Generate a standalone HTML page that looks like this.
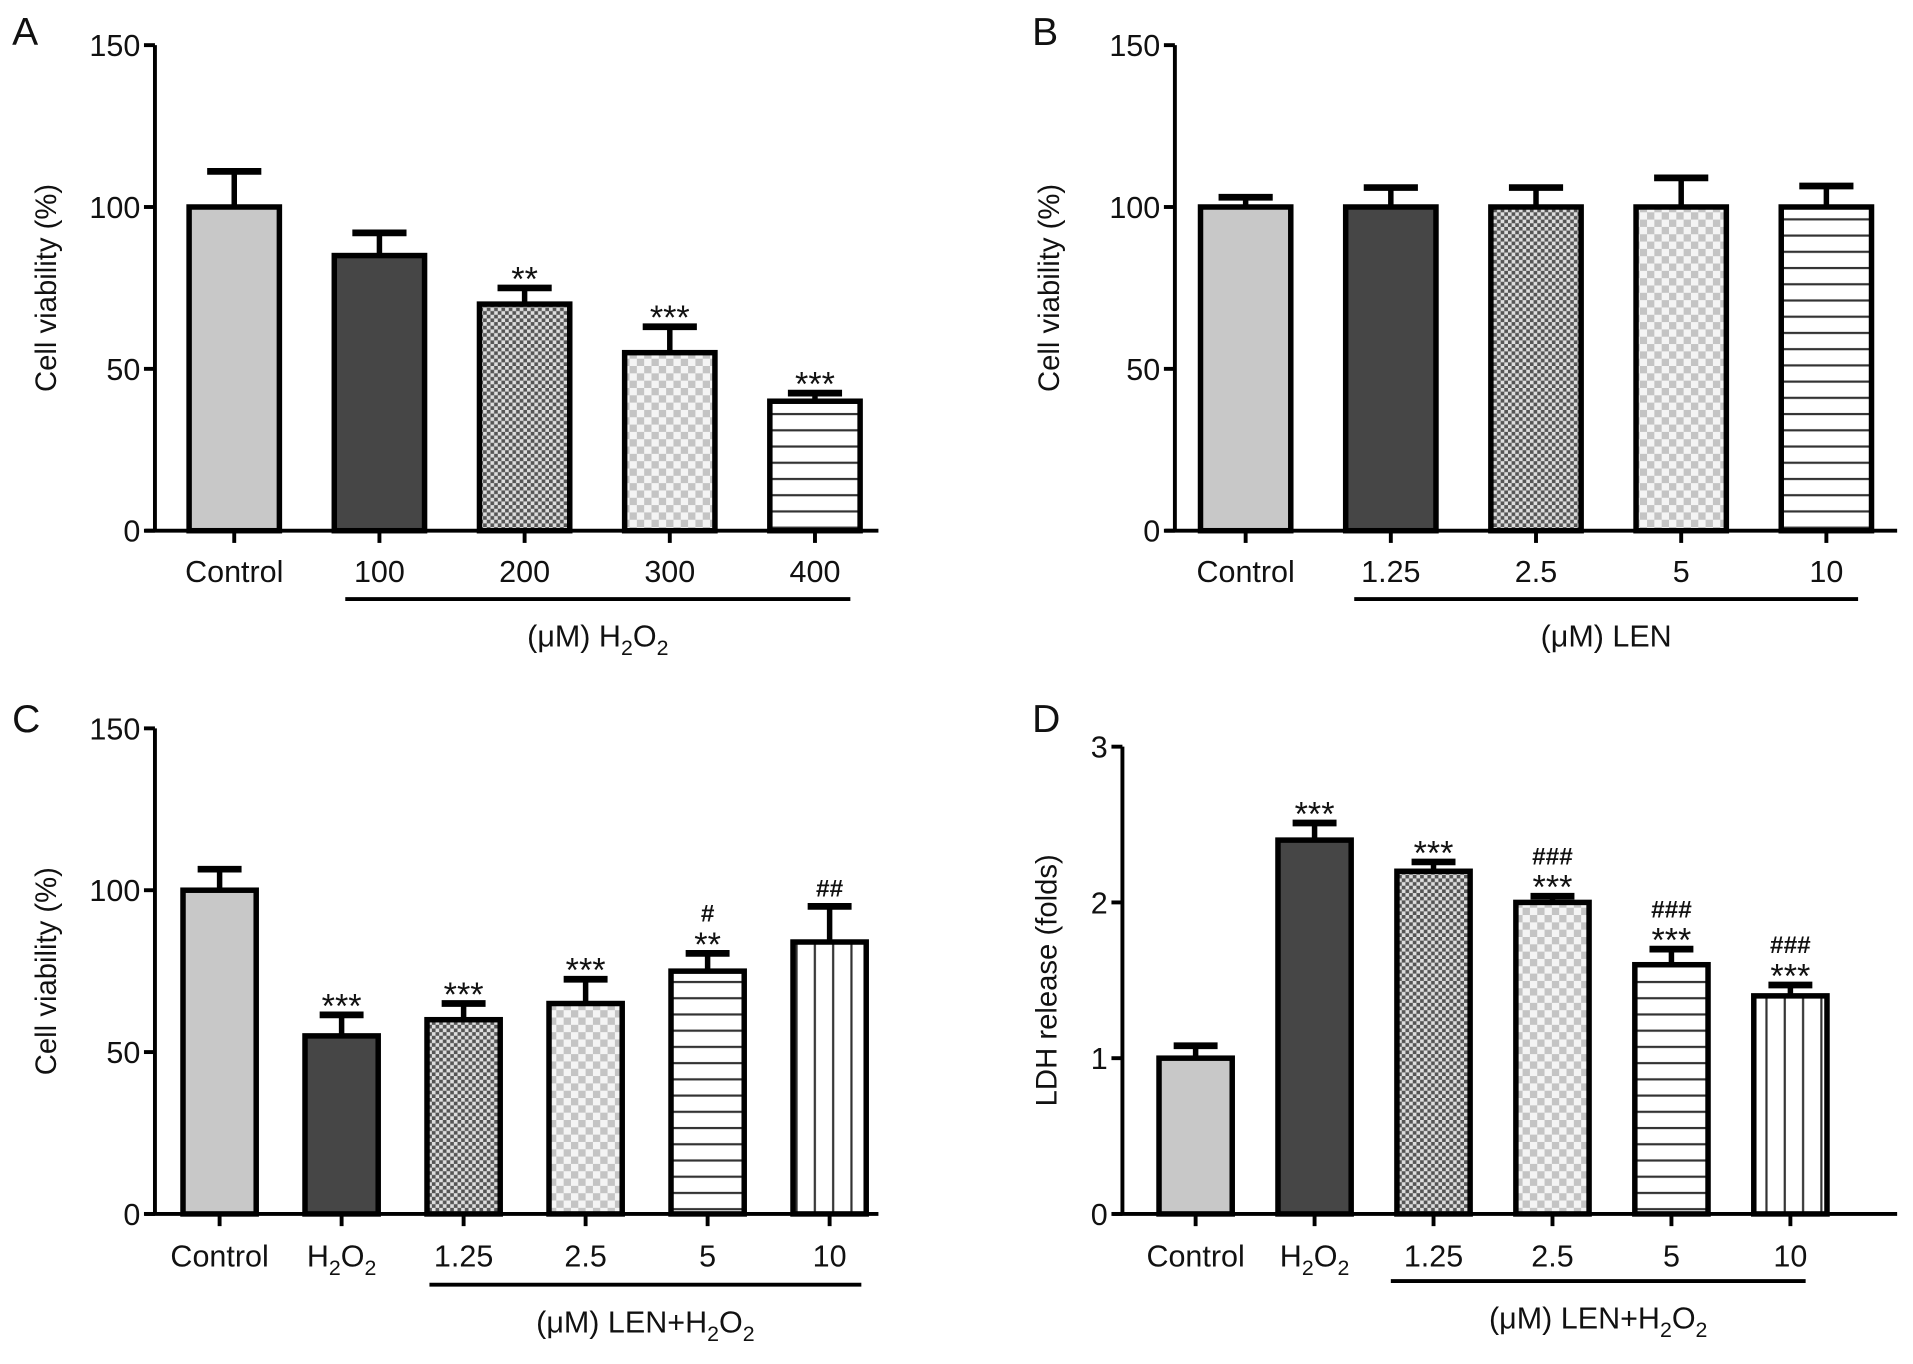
<!DOCTYPE html>
<html><head><meta charset="utf-8"><style>
html,body{margin:0;padding:0;background:#fff}
svg{display:block}
text{font-family:"Liberation Sans",Arial,sans-serif;fill:#111}
</style></head><body>
<svg id="fig" width="1913" height="1364" viewBox="0 0 1568 1118" preserveAspectRatio="none" xmlns="http://www.w3.org/2000/svg">
<defs>
<pattern id="p-fine" width="6" height="6" patternUnits="userSpaceOnUse"><rect width="6" height="6" fill="#555"/><rect width="3" height="3" fill="#ddd"/><rect x="3" y="3" width="3" height="3" fill="#ddd"/></pattern>
<pattern id="p-coarse" width="12" height="12" patternUnits="userSpaceOnUse"><rect width="12" height="12" fill="#f4f4f4"/><rect width="6" height="6" fill="#c4c4c4"/><rect x="6" y="6" width="6" height="6" fill="#c4c4c4"/></pattern>
<pattern id="p-hlines" width="10" height="13.3" patternUnits="userSpaceOnUse"><rect width="10" height="13.3" fill="#fff"/><rect y="6" width="10" height="1.8" fill="#333"/></pattern>
<pattern id="p-vlines" width="15" height="10" patternUnits="userSpaceOnUse"><rect width="15" height="10" fill="#fff"/><rect x="7" width="1.8" height="10" fill="#333"/></pattern>
</defs>
</svg>
<script>
// Panel A
const catsA = ["Control","100","200","300","400"];
const valsA = [100,85,70,55,40];
const errsA = [11,7,5,8,2.5];
const annA = [[],[],["**"],["***"],["***"]];
// Panel B
const catsB = ["Control","1.25","2.5","5","10"];
const valsB = [100,100,100,100,100];
const errsB = [3,6,6,9,6.5];
const annB = [[],[],[],[],[]];
// Panel C
const catsC = ["Control","H2O2","1.25","2.5","5","10"];
const valsC = [100,55,60,65,75,84];
const errsC = [6.5,6.5,5,7.5,5.5,11];
const annC = [[],["***"],["***"],["***"],["**","#"],["##"]];
// Panel D
const catsD = ["Control","H2O2","1.25","2.5","5","10"];
const valsD = [1.0,2.4,2.2,2.0,1.6,1.4];
const errsD = [0.08,0.11,0.06,0.04,0.1,0.07];
const annD = [[],["***"],["***"],["***","###"],["***","###"],["***","###"]];
const ticksCV = [0,50,100,150];
const ticksLDH = [0,1,2,3];

const fillsA = ["#c8c8c8","#464646","url(#p-fine)","url(#p-coarse)","url(#p-hlines)"];
const fillsC = ["#c8c8c8","#464646","url(#p-fine)","url(#p-coarse)","url(#p-hlines)","url(#p-vlines)"];

const svg = document.getElementById('fig');
const NS = "http://www.w3.org/2000/svg";
function mk(tag, attrs, parent){const e=document.createElementNS(NS,tag);for(const k in attrs)e.setAttribute(k,attrs[k]);(parent||svg).appendChild(e);return e;}
function label(g,x,y,txt,size,anchor){
  const t=mk('text',{x:x,y:y,'font-size':size,'text-anchor':anchor||'middle'},g);
  const m=txt.match(/^(.*?)H2O2(.*)$/);
  if(m){
    t.appendChild(document.createTextNode(m[1]+"H"));
    const s1=mk('tspan',{dy:7,'font-size':size*0.7},t);s1.textContent="2";
    const s2=mk('tspan',{dy:-7},t);s2.textContent="O";
    const s3=mk('tspan',{dy:7,'font-size':size*0.7},t);s3.textContent="2";
    if(m[2]){const s4=mk('tspan',{dy:-7},t);s4.textContent=m[2];}
  } else t.textContent=txt;
  return t;
}
function panel(o){
  const g=mk('g',{});
  
  
  const ymax=o.ticks[o.ticks.length-1];
  const Y=v=>o.y0-(v/ymax)*(o.y0-o.yTop);
  const X=i=>o.x0+i*o.step;
  const lt=mk('text',{x:o.lx,y:o.ly,'font-size':32},g);lt.textContent=o.letter;
  
  const ya=mk('line',{x1:o.ax,y1:o.yTop,x2:o.ax,y2:o.y0,stroke:'#000','stroke-width':3.2},g);
  
  o.ticks.forEach(t=>{
    mk('line',{x1:o.ax-9,y1:Y(t),x2:o.ax,y2:Y(t),stroke:'#000','stroke-width':3.2},g);
    const tl=mk('text',{x:o.ax-12,y:Y(t)+9,'font-size':25,'text-anchor':'end'},g);tl.textContent=t;
    
  });
  const yt=mk('text',{x:0,y:0,'font-size':24,'text-anchor':'middle',transform:`translate(${o.ylx},${(o.yTop+o.y0)/2}) rotate(-90)`},g);
  yt.textContent=o.ytitle;
  
  const xa=mk('line',{x1:o.ax-8,y1:o.y0,x2:o.xEnd,y2:o.y0,stroke:'#000','stroke-width':3.2},g);
  
  o.cats.forEach((c,i)=>{
    const cx=X(i),top=Y(o.vals[i]),et=Y(o.vals[i]+o.errs[i]);
    const bar=mk('rect',{x:cx-o.bw/2,y:top,width:o.bw,height:o.y0-top,fill:o.fills[i],stroke:'#000','stroke-width':4.5},g);
    
    
    mk('line',{x1:cx,y1:top,x2:cx,y2:et,stroke:'#000','stroke-width':4.5},g);
    const cap=mk('line',{x1:cx-o.bw*0.3,y1:et,x2:cx+o.bw*0.3,y2:et,stroke:'#000','stroke-width':5.5},g);
    
    mk('line',{x1:cx,y1:o.y0,x2:cx,y2:o.y0+10,stroke:'#000','stroke-width':3.2},g);
    const xl=label(g,cx,o.labY,c,25);
    
    o.ann[i].forEach((a,k)=>{
      const at=mk('text',{x:cx,y:et-8-k*18+(a[0]=='*'?10:0),'font-size':a[0]=='*'?28:20,'font-weight':a[0]=='#'?'bold':'normal','text-anchor':'middle'},g);
      at.textContent=a;
      
    });
  });
  const ul=mk('line',{x1:o.ulx1,y1:o.uly,x2:o.ulx2,y2:o.uly,stroke:'#000','stroke-width':3.2},g);
  
  const gl=label(g,(o.ulx1+o.ulx2)/2,o.uly+39,o.group,25);
  
}
panel({name:'panel-a',letter:'A',lx:10,ly:37,ax:127,yTop:37,y0:435,ticks:ticksCV,ylx:46,ytitle:'Cell viability (%)',
  xEnd:720,x0:192,step:119,bw:74,cats:catsA,vals:valsA,errs:errsA,ann:annA,fills:fillsA,labY:477,ulx1:283,ulx2:697,uly:491,group:'(μM) H2O2'});
panel({name:'panel-b',letter:'B',lx:846,ly:37,ax:963,yTop:37,y0:435,ticks:ticksCV,ylx:868,ytitle:'Cell viability (%)',
  xEnd:1555,x0:1021,step:119,bw:74,cats:catsB,vals:valsB,errs:errsB,ann:annB,fills:fillsA,labY:477,ulx1:1110,ulx2:1523,uly:491,group:'(μM) LEN'});
panel({name:'panel-c',letter:'C',lx:10,ly:600,ax:127,yTop:597,y0:995,ticks:ticksCV,ylx:46,ytitle:'Cell viability (%)',
  xEnd:720,x0:180,step:100,bw:60,cats:catsC,vals:valsC,errs:errsC,ann:annC,fills:fillsC,labY:1038,ulx1:352,ulx2:706,uly:1053,group:'(μM) LEN+H2O2'});
panel({name:'panel-d',letter:'D',lx:846,ly:600,ax:920,yTop:612,y0:995,ticks:ticksLDH,ylx:866,ytitle:'LDH release (folds)',
  xEnd:1555,x0:980,step:97.5,bw:60,cats:catsD,vals:valsD,errs:errsD,ann:annD,fills:fillsC,labY:1038,ulx1:1140,ulx2:1480,uly:1050,group:'(μM) LEN+H2O2'});
</script>
</body></html>
